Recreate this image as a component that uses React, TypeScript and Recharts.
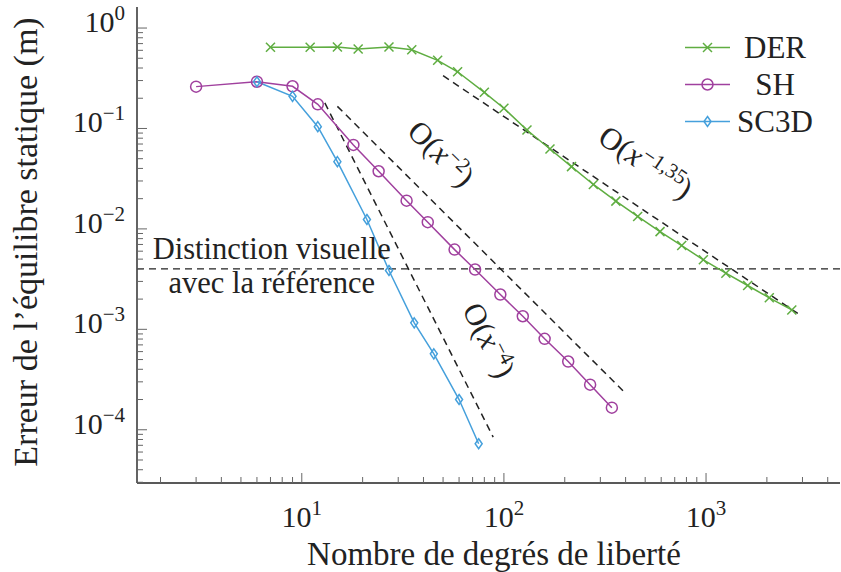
import React from 'react'
import { LineChart, Line, XAxis, YAxis, ReferenceLine, ReferenceDot, Label } from 'recharts'

// degrés de liberté / erreur (m)
const derDofs = [7, 11, 15, 19, 27, 35, 47, 59, 80, 100, 130, 169, 216, 277, 358, 459, 592, 758, 970, 1253, 1607, 2056, 2656]
const derErr = [0.643, 0.643, 0.647, 0.618, 0.647, 0.608, 0.477, 0.367, 0.229, 0.159, 0.0966, 0.0625, 0.0417, 0.0277, 0.0189, 0.0133, 0.0094, 0.00682, 0.00492, 0.00362, 0.00273, 0.00206, 0.00156]

const shDofs = [3, 6, 9, 12, 18, 24, 33, 42, 57, 72, 96, 124, 159, 208, 267, 342]
const shErr = [0.261, 0.292, 0.263, 0.174, 0.0686, 0.0375, 0.0191, 0.01167, 0.00622, 0.00394, 0.00222, 0.00135, 0.000804, 0.000478, 0.000281, 0.000166]

const scDofs = [6, 9, 12, 15, 21, 27, 36, 45, 60, 75]
const scErr = [0.292, 0.209, 0.1042, 0.0467, 0.0124, 0.00385, 0.00116, 0.00057, 0.0002, 0.0000726]

// pentes de référence (extrémités des pointillés)
const slope2X = [15, 402]
const slope2Y = [0.166, 0.000228]
const slope4X = [13, 88.5]
const slope4Y = [0.18, 0.0000845]
const slope135X = [50, 2980]
const slope135Y = [0.335, 0.00135]

const threshold = 0.004

const xMajor = [10, 100, 1000]
const xMinor = [2, 3, 4, 5, 6, 7, 8, 9, 20, 30, 40, 50, 60, 70, 80, 90, 200, 300, 400, 500, 600, 700, 800, 900, 2000, 3000, 4000]
const yMajor = [1e-4, 1e-3, 1e-2, 1e-1, 1]
const yMinorMantissa = [2, 3, 4, 5, 6, 7, 8, 9]
const yDecades = [1e-5, 1e-4, 1e-3, 1e-2, 1e-1]

const xTicks = [...xMinor, ...xMajor].sort((a, b) => a - b)
const yTicks = [
  ...yMajor,
  ...yDecades.flatMap(d => yMinorMantissa.map(m => +(m * d).toPrecision(3))).filter(v => v > 2.95e-5),
].sort((a, b) => a - b)

const pts = (xs: number[], ys: number[]) => xs.map((x, i) => ({ x, y: ys[i] }))

const GREEN = '#5fad41'
const PURPLE = '#a0409e'
const BLUE = '#45a0dc'
const INK = '#222'
const TICK = '#666'
const FONT = '"Liberation Serif", serif'

const isMajor = (v: number) => Math.abs(Math.log10(v) - Math.round(Math.log10(v))) < 1e-6
const expOf = (v: number) => {
  const e = Math.round(Math.log10(v))
  return e < 0 ? '−' + -e : String(e)
}

function BottomTick({ x, y, payload }: any) {
  const major = isMajor(payload.value)
  return (
    <g>
      <line x1={x} x2={x} y1={y} y2={y - (major ? 10 : 6)} stroke={TICK} />
      {major && (
        <text x={x} y={y + 44} textAnchor="middle" fontSize={30} fontFamily={FONT} fill={INK}>
          10<tspan dy={-12} fontSize={21}>{expOf(payload.value)}</tspan>
        </text>
      )}
    </g>
  )
}

function TopTick({ x, y, payload }: any) {
  const major = isMajor(payload.value)
  return <line x1={x} x2={x} y1={y} y2={y + (major ? 10 : 6)} stroke={TICK} />
}

function LeftTick({ x, y, payload }: any) {
  const major = isMajor(payload.value)
  return (
    <g>
      <line x1={x} x2={x + (major ? 10 : 6)} y1={y} y2={y} stroke={TICK} />
      {major && (
        <text x={x - 12} y={y + 4} textAnchor="end" fontSize={30} fontFamily={FONT} fill={INK}>
          10<tspan dy={-12} fontSize={21}>{expOf(payload.value)}</tspan>
        </text>
      )}
    </g>
  )
}

function RightTick({ x, y, payload }: any) {
  const major = isMajor(payload.value)
  return <line x1={x} x2={x - (major ? 10 : 6)} y1={y} y2={y} stroke={TICK} />
}

const crossDot = (p: any) => (
  <g key={'c' + p.index}>
    <line x1={p.cx - 4.5} x2={p.cx + 4.5} y1={p.cy - 4.5} y2={p.cy + 4.5} stroke={GREEN} strokeWidth={1.5} />
    <line x1={p.cx - 4.5} x2={p.cx + 4.5} y1={p.cy + 4.5} y2={p.cy - 4.5} stroke={GREEN} strokeWidth={1.5} />
  </g>
)
const circleDot = (p: any) => (
  <circle key={'o' + p.index} cx={p.cx} cy={p.cy} r={5.5} fill="none" stroke={PURPLE} strokeWidth={1.5} />
)
const diamondDot = (p: any) => (
  <path
    key={'d' + p.index}
    d={`M${p.cx},${p.cy - 5}L${p.cx + 3.5},${p.cy}L${p.cx},${p.cy + 5}L${p.cx - 3.5},${p.cy}Z`}
    fill="none"
    stroke={BLUE}
    strokeWidth={1.5}
  />
)

const bigO = (exp: string, angle: number) => (p: any) => (
  <text
    transform={`translate(${p.cx},${p.cy}) rotate(${angle})`}
    textAnchor="middle"
    fontSize={31}
    fontFamily={FONT}
    fill={INK}
  >
    O(<tspan fontStyle="italic">x</tspan>
    <tspan dy={-11} fontSize={21}>{exp}</tspan>
    <tspan dy={11}>)</tspan>
  </text>
)

const thresholdText = (p: any) => (
  <g fontFamily={FONT} fontSize={30.5} fill={INK}>
    <text x={p.cx} y={p.cy - 10} textAnchor="middle">Distinction visuelle</text>
    <text x={p.cx} y={p.cy + 24} textAnchor="middle">avec la référence</text>
  </g>
)

const legendRows = [
  { name: 'DER', color: GREEN, dot: crossDot },
  { name: 'SH', color: PURPLE, dot: circleDot },
  { name: 'SC3D', color: BLUE, dot: diamondDot },
]

export default function App() {
  return (
    <div style={{ position: 'absolute', left: 0, top: 0, width: 841, height: 572, fontFamily: FONT, background: '#fff' }}>
      <LineChart width={841} height={572} margin={{ top: 7, right: 1, bottom: 0, left: 0 }}>
        <XAxis
          dataKey="x"
          type="number"
          scale="log"
          domain={[1.53, 4600]}
          allowDataOverflow
          ticks={xTicks}
          interval={0}
          tick={BottomTick}
          tickLine={false}
          tickSize={0}
          tickMargin={0}
          height={89}
          axisLine={{ stroke: INK, strokeWidth: 1.4 }}
        >
          <Label
            content={() => (
              <text x={494} y={565} textAnchor="middle" fontSize={33} fontFamily={FONT} fill={INK}>
                Nombre de degrés de liberté
              </text>
            )}
          />
        </XAxis>
        <XAxis
          xAxisId="top"
          orientation="top"
          dataKey="x"
          type="number"
          scale="log"
          domain={[1.53, 4600]}
          allowDataOverflow
          ticks={xTicks}
          interval={0}
          tick={TopTick}
          tickLine={false}
          tickSize={0}
          tickMargin={0}
          height={0}
          axisLine={{ stroke: INK, strokeWidth: 1.4 }}
        />
        <YAxis
          dataKey="y"
          type="number"
          scale="log"
          domain={[2.95e-5, 1.62]}
          allowDataOverflow
          ticks={yTicks}
          interval={0}
          tick={LeftTick}
          tickLine={false}
          tickSize={0}
          tickMargin={0}
          width={137}
          axisLine={{ stroke: INK, strokeWidth: 1.4 }}
        >
          <Label
            content={() => (
              <text transform="translate(37,242) rotate(-90)" textAnchor="middle" fontSize={34} fontFamily={FONT} fill={INK}>
                Erreur de l’équilibre statique (m)
              </text>
            )}
          />
        </YAxis>
        <YAxis
          yAxisId="right"
          orientation="right"
          dataKey="y"
          type="number"
          scale="log"
          domain={[2.95e-5, 1.62]}
          allowDataOverflow
          ticks={yTicks}
          interval={0}
          tick={RightTick}
          tickLine={false}
          tickSize={0}
          tickMargin={0}
          width={0}
          axisLine={{ stroke: INK, strokeWidth: 1.4 }}
        />

        <ReferenceLine y={threshold} stroke={INK} strokeWidth={1.4} strokeDasharray="7 5" />
        <ReferenceDot x={7.1} y={threshold} ifOverflow="visible" shape={thresholdText} />

        <Line data={pts(slope2X, slope2Y)} dataKey="y" stroke={INK} strokeWidth={1.5} strokeDasharray="7 5" dot={false} isAnimationActive={false} />
        <Line data={pts(slope4X, slope4Y)} dataKey="y" stroke={INK} strokeWidth={1.5} strokeDasharray="7 5" dot={false} isAnimationActive={false} />
        <Line data={pts(slope135X, slope135Y)} dataKey="y" stroke={INK} strokeWidth={1.5} strokeDasharray="7 5" dot={false} isAnimationActive={false} />

        <Line data={pts(derDofs, derErr)} dataKey="y" name="DER" stroke={GREEN} strokeWidth={1.5} dot={crossDot} isAnimationActive={false} />
        <Line data={pts(shDofs, shErr)} dataKey="y" name="SH" stroke={PURPLE} strokeWidth={1.5} dot={circleDot} isAnimationActive={false} />
        <Line data={pts(scDofs, scErr)} dataKey="y" name="SC3D" stroke={BLUE} strokeWidth={1.5} dot={diamondDot} isAnimationActive={false} />

        <ReferenceDot x={45} y={0.0475} ifOverflow="visible" shape={bigO('−2', 45)} />
        <ReferenceDot x={76} y={0.0007} ifOverflow="visible" shape={bigO('−4', 63)} />
        <ReferenceDot x={471} y={0.0378} ifOverflow="visible" shape={bigO('−1,35', 34)} />
      </LineChart>

      <div style={{ position: 'absolute', left: 683, top: 28.4 }}>
        {legendRows.map(r => (
          <div key={r.name} style={{ display: 'flex', alignItems: 'center', height: 37.3 }}>
            <svg width={50} height={37} style={{ display: 'block' }}>
              <line x1={2} x2={47} y1={18.5} y2={18.5} stroke={r.color} strokeWidth={1.5} />
              {r.dot({ cx: 24.5, cy: 18.5, index: 0 })}
            </svg>
            <div style={{ width: 84, textAlign: 'center', fontSize: 31, color: INK, lineHeight: '37px', fontFamily: FONT }}>{r.name}</div>
          </div>
        ))}
      </div>
    </div>
  )
}
